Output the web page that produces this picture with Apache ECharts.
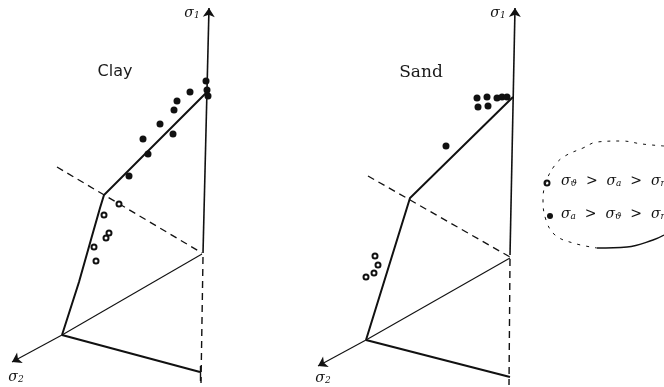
<!DOCTYPE html>
<html>
<head>
<meta charset="utf-8">
<script src="https://cdn.jsdelivr.net/npm/echarts@6/dist/echarts.min.js"></script>
<style>
  html, body { margin: 0; padding: 0; background: #fff; }
  #chart { width: 664px; height: 387px; }
</style>
</head>
<body>
<div id="chart"></div>
<script>
// Stress-space sketches (σ1 vertical, σ2 toward the viewer), drawing-plane coordinates.

// ---- Clay panel ----
const claySigma1Axis   = [[203, 253], [209, 8]];
const claySigma1Below  = [[203, 257], [201, 383]];
const claySigma2Axis   = [[62, 335], [12, 362]];
const clayThinRay      = [[62, 335], [202, 254]];
const clayBaseRay      = [[62, 335], [200, 372]];
const clayBaseTick     = [[200, 366], [200, 381]];
const claySurface      = [[62, 335], [79, 282], [92, 236], [100, 208], [104, 195], [206, 93]];
const clayDashed       = [[57, 167], [202, 253]];
const clayFilled       = [[206, 81], [207, 90], [208, 96], [190, 92], [177, 101], [174, 110],
                          [160, 124], [173, 134], [143, 139], [148, 154], [129, 176]];
const clayOpen         = [[119, 204], [104, 215], [109, 233], [106, 238], [94, 247], [96, 261]];

// ---- Sand panel ----
const sandSigma1Axis   = [[510, 255], [515, 8]];
const sandSigma1Below  = [[510, 259], [509, 385]];
const sandSigma2Axis   = [[366, 340], [318, 366]];
const sandThinRay      = [[366, 340], [510, 258]];
const sandBaseRay      = [[366, 340], [510, 377]];
const sandSurface      = [[366, 340], [410, 198], [513, 97]];
const sandDashed       = [[368, 176], [510, 257]];
const sandFilled       = [[477, 98], [478, 107], [487, 97], [488, 106], [497, 98], [502, 97],
                          [507, 97], [446, 146]];
const sandOpen         = [[375, 256], [378, 265], [374, 273], [366, 277]];

// ---- Key (enclosed by a hand-drawn loop) ----
const keyOpenMark      = [[547, 183]];
const keyFilledMark    = [[550, 216]];
const keyLoopDashed    = [[664, 146], [642, 144], [622, 141], [597, 142], [583, 148], [565, 156],
                          [555, 165], [546, 182], [543, 200], [546, 220], [555, 235], [573, 243], [597, 248]];
const keyLoopSolid     = [[597, 248], [627, 247], [653, 240], [664, 235]];

// ---- Text ----
const titleClay = { pos: [115, 72], text: 'Clay' };
const titleSand = { pos: [421, 73], text: 'Sand' };
const axisNames = [
  { pos: [192, 13], main: 'σ', sub: '1' },
  { pos: [16, 377], main: 'σ', sub: '2' },
  { pos: [498, 13], main: 'σ', sub: '1' },
  { pos: [323, 378], main: 'σ', sub: '2' }
];
const keyLines = [
  { pos: [561, 181], parts: [['σ', 'ϑ'], ['σ', 'a'], ['σ', 'r']] },
  { pos: [561, 214], parts: [['σ', 'a'], ['σ', 'ϑ'], ['σ', 'r']] }
];

const INK = '#111';

function seg(coords, width, dashed, arrow) {
  return {
    type: 'lines',
    coordinateSystem: 'cartesian2d',
    polyline: coords.length > 2,
    silent: true,
    symbol: arrow ? ['none', 'arrow'] : ['none', 'none'],
    symbolSize: arrow ? 9 : 0,
    lineStyle: { color: INK, width: width, type: dashed ? [7, 5] : 'solid', opacity: 1 },
    data: [{ coords: coords }]
  };
}

function points(data, filled, size) {
  return {
    type: 'scatter',
    silent: true,
    symbol: filled ? 'circle' : 'emptyCircle',
    symbolSize: size,
    itemStyle: filled
      ? { color: INK, opacity: 1 }
      : { color: INK, borderColor: INK, borderWidth: 1.1, opacity: 1 },
    data: data
  };
}

const subRich = {
  s: { fontFamily: 'DejaVu Serif', fontStyle: 'italic', fontSize: 14, color: INK, lineHeight: 18 },
  sub: { fontFamily: 'DejaVu Serif', fontStyle: 'italic', fontSize: 9, color: INK, lineHeight: 18, padding: [5, 0, 0, 0] },
  t: { fontFamily: 'DejaVu Serif', fontSize: 14, color: INK, lineHeight: 18 }
};

function sigma(main, sub) { return '{s|' + main + '}{sub|' + sub + '}'; }

function textMark(pos, formatter, opts) {
  return {
    type: 'scatter',
    silent: true,
    symbolSize: 0,
    itemStyle: { opacity: 1 },
    data: [pos],
    label: Object.assign({
      show: true,
      position: 'inside',
      formatter: formatter,
      color: INK,
      opacity: 1,
      rich: subRich
    }, opts || {})
  };
}

const series = [
  // Clay
  seg(claySigma1Axis, 1.6, false, true),
  seg(claySigma1Below, 1.4, true, false),
  seg(claySigma2Axis, 1.1, false, true),
  seg(clayThinRay, 1.1, false, false),
  seg(clayBaseRay, 2.2, false, false),
  seg(clayBaseTick, 1.4, false, false),
  seg(claySurface, 2.0, false, false),
  seg(clayDashed, 1.3, true, false),
  points(clayFilled, true, 7),
  points(clayOpen, false, 5),
  // Sand
  seg(sandSigma1Axis, 1.6, false, true),
  seg(sandSigma1Below, 1.4, true, false),
  seg(sandSigma2Axis, 1.1, false, true),
  seg(sandThinRay, 1.1, false, false),
  seg(sandBaseRay, 2.2, false, false),
  seg(sandSurface, 2.0, false, false),
  seg(sandDashed, 1.3, true, false),
  points(sandFilled, true, 7),
  points(sandOpen, false, 5),
  // Key
  {
    type: 'line', silent: true, symbol: 'none', smooth: 0.4,
    lineStyle: { color: INK, width: 1, type: [3, 6] },
    data: keyLoopDashed
  },
  {
    type: 'line', silent: true, symbol: 'none', smooth: 0.4,
    lineStyle: { color: INK, width: 1.4 },
    data: keyLoopSolid
  },
  points(keyOpenMark, false, 5),
  points(keyFilledMark, true, 6),
  // Titles
  textMark(titleClay.pos, titleClay.text, { fontFamily: 'DejaVu Sans', fontSize: 16, color: '#1a1a1a' }),
  textMark(titleSand.pos, titleSand.text, { fontFamily: 'DejaVu Serif', fontSize: 17, color: '#1a1a1a' })
];

axisNames.forEach(function (a) {
  series.push(textMark(a.pos, sigma(a.main, a.sub)));
});

keyLines.forEach(function (k) {
  const f = k.parts.map(function (p) { return sigma(p[0], p[1]); }).join('{t|  >  }');
  series.push(textMark(k.pos, f, { position: 'right', distance: 0 }));
});

const chart = echarts.init(document.getElementById('chart'), null, { renderer: 'canvas' });
chart.setOption({
  animation: false,
  backgroundColor: '#fff',
  grid: { left: 0, right: 0, top: 0, bottom: 0 },
  xAxis: { type: 'value', min: 0, max: 664, show: false },
  yAxis: { type: 'value', min: 0, max: 387, inverse: true, show: false },
  series: series
});
</script>
</body>
</html>
